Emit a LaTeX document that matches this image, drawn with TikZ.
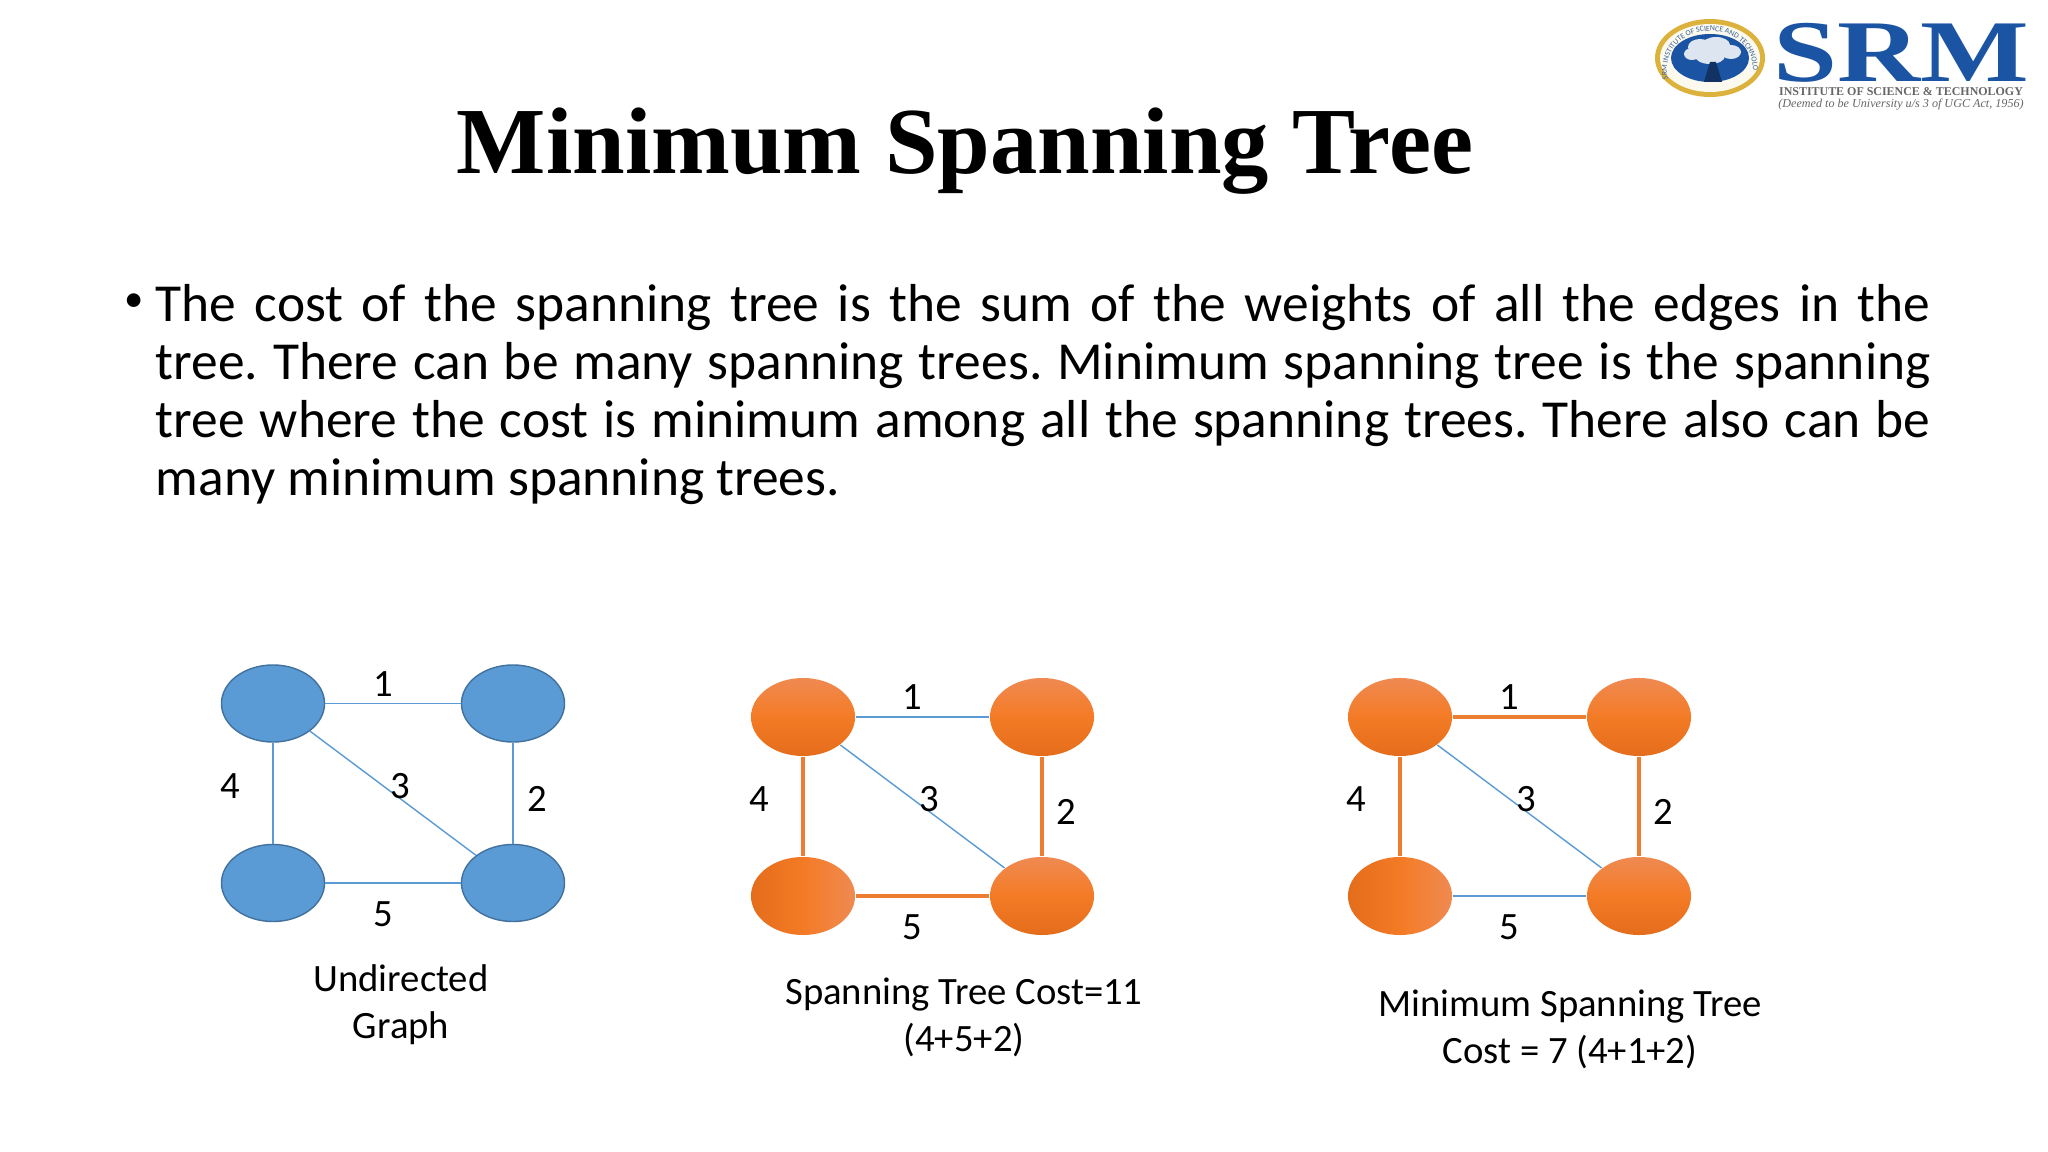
\documentclass[tikz,border=0pt]{standalone}
\usepackage{fontspec}
\usetikzlibrary{shapes.geometric, decorations.text}
\setmainfont{Carlito}
\newfontfamily\titlefont{Liberation Serif}
\definecolor{bluefill}{HTML}{5B9BD5}
\definecolor{blueline}{HTML}{41719C}
\definecolor{orangeline}{HTML}{ED7D31}
\definecolor{orangetop}{HTML}{EF8A52}
\definecolor{orangemid}{HTML}{F47B25}
\definecolor{orangelow}{HTML}{E46D1C}
\definecolor{srmblue}{HTML}{1C54A4}
\definecolor{srmgold}{HTML}{DDB23C}
\begin{document}
\begin{tikzpicture}[x=0.01cm, y=-0.01cm,
	vertexblue/.style={ellipse, minimum width=1.03cm, minimum height=0.77cm, inner sep=0pt, draw=blueline, line width=0.4pt, fill=bluefill},
	vertexorange/.style={ellipse, minimum width=1.04cm, minimum height=0.78cm, inner sep=0pt, top color=orangetop, bottom color=orangelow, middle color=orangemid, draw=none},
	thinedge/.style={draw=bluefill, line width=0.4pt},
	thickedge/.style={draw=orangeline, line width=1pt},
	weight/.style={font=\fontsize{11}{13}\selectfont, inner sep=0pt},
	caption/.style={font=\fontsize{11}{13.4}\selectfont, align=center, inner sep=0pt}]
	\useasboundingbox (0,0) rectangle (2048,1152);
	\fill[white] (0,0) rectangle (2048,1152);

	% 1. title and paragraph
	\node[font=\titlefont\bfseries\fontsize{26.9}{30}\selectfont, inner sep=0pt] (title) at (965,151) {Minimum Spanning Tree};
	\node[font=\fontsize{11}{13}\selectfont, inner sep=0pt] (bullet) at (134,303) {•};
	\node[font=\fontsize{15.2}{16.5}\selectfont\frenchspacing, text width=17.74cm, align=justify, inner sep=0pt, anchor=north west] (para) at (155,284)
		{The cost of the spanning tree is the sum of the weights of all the edges in the\linebreak tree. There can be many spanning trees. Minimum spanning tree is the spanning\linebreak tree where the cost is minimum among all the spanning trees. There also can be\linebreak many minimum spanning trees.};

	% 2. logo
	\fill[srmgold] (1710,58) ellipse (55 and 39);
	\fill[white!92!srmgold] (1710,58) ellipse (50 and 34);
	\fill[srmblue] (1710,58) ellipse (39 and 24);
	\fill[white!85!srmblue] (1692,54) ellipse (8 and 6) (1700,47) ellipse (12 and 8) (1716,45) ellipse (14 and 8) (1731,52) ellipse (10 and 7) (1710,56) ellipse (15 and 8);
	\fill[srmblue!60!black] (1704,82) -- (1710,62) -- (1716,62) -- (1722,82) -- cycle;
	\path[decorate, decoration={text along path, text align=center, text color=srmblue!70!gray,
		text={|\fontsize{2.2}{3}\selectfont|SRM INSTITUTE OF SCIENCE AND TECHNOLOGY}}]
		(1667,70) .. controls (1667,18) and (1753,18) .. (1753,70);
	\node[font=\titlefont\bfseries\fontsize{25}{28}\selectfont, text=srmblue, xscale=1.31, inner sep=0pt] (srm) at (1901,53) {SRM};
	\node[font=\titlefont\bfseries\fontsize{3.4}{4}\selectfont, text=black!60, inner sep=0pt] (institute) at (1901,92) {INSTITUTE OF SCIENCE \& TECHNOLOGY};
	\node[font=\titlefont\itshape\fontsize{3.45}{4}\selectfont, text=black!60, inner sep=0pt] (deemed) at (1901,105) {(Deemed to be University u/s 3 of UGC Act, 1956)};

	% 3. undirected graph
	\node[vertexblue] (a1) at (273,703.5) {};
	\node[vertexblue] (b1) at (513,703.5) {};
	\node[vertexblue] (c1) at (273,883) {};
	\node[vertexblue] (d1) at (513,883) {};
	\draw[thinedge] (a1) -- (b1);
	\draw[thinedge] (b1) -- (d1);
	\draw[thinedge] (a1) -- (d1);
	\draw[thinedge] (a1) -- (c1);
	\draw[thinedge] (c1) -- (d1);
	\node[weight] (w11) at (383,684) {1};
	\node[weight] (w12) at (537,799) {2};
	\node[weight] (w13) at (400,786) {3};
	\node[weight] (w14) at (230,786) {4};
	\node[weight] (w15) at (383,914) {5};
	\node[caption] (cap1) at (401,1005) {Undirected\\Graph};

	% 4. spanning tree
	\node[vertexorange] (a2) at (803,717) {};
	\node[vertexorange] (b2) at (1042,717) {};
	\node[vertexorange, shading angle=270] (c2) at (803,896) {};
	\node[vertexorange] (d2) at (1042,896) {};
	\draw[thinedge] (a2) -- (b2);
	\draw[thickedge] (b2) -- (d2);
	\draw[thinedge] (a2) -- (d2);
	\draw[thickedge] (a2) -- (c2);
	\draw[thickedge] (c2) -- (d2);
	\node[weight] (w21) at (912,697) {1};
	\node[weight] (w22) at (1066,812) {2};
	\node[weight] (w23) at (929,799) {3};
	\node[weight] (w24) at (759,799) {4};
	\node[weight] (w25) at (912,927) {5};
	\node[caption] (cap2) at (964,1017) {Spanning Tree Cost=11\\(4+5+2)};

	% 5. minimum spanning tree
	\node[vertexorange] (a3) at (1400,717) {};
	\node[vertexorange] (b3) at (1639,717) {};
	\node[vertexorange, shading angle=270] (c3) at (1400,896) {};
	\node[vertexorange] (d3) at (1639,896) {};
	\draw[thickedge] (a3) -- (b3);
	\draw[thickedge] (b3) -- (d3);
	\draw[thinedge] (a3) -- (d3);
	\draw[thickedge] (a3) -- (c3);
	\draw[thinedge] (c3) -- (d3);
	\node[weight] (w31) at (1509,697) {1};
	\node[weight] (w32) at (1663,812) {2};
	\node[weight] (w33) at (1526,799) {3};
	\node[weight] (w34) at (1356,799) {4};
	\node[weight] (w35) at (1509,927) {5};
	\node[caption] (cap3) at (1570,1029) {Minimum Spanning Tree\\Cost = 7 (4+1+2)};
\end{tikzpicture}
\end{document}
